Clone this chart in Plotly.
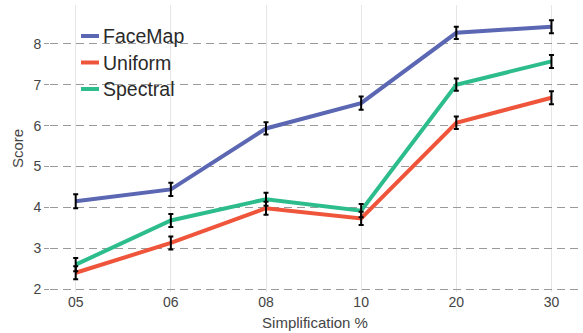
import plotly.graph_objects as go

categories = ["05", "06", "08", "10", "20", "30"]
facemap = [4.15, 4.44, 5.93, 6.55, 8.27, 8.42]
uniform = [2.40, 3.13, 3.98, 3.73, 6.07, 6.68]
spectral = [2.60, 3.68, 4.20, 3.92, 7.00, 7.57]
facemap_err = [0.17, 0.16, 0.15, 0.16, 0.15, 0.16]
uniform_err = [0.16, 0.16, 0.16, 0.16, 0.15, 0.16]
spectral_err = [0.16, 0.16, 0.16, 0.16, 0.15, 0.16]

series = [
    ("FaceMap", facemap, facemap_err, "#5b67b3"),
    ("Uniform", uniform, uniform_err, "#ef553b"),
    ("Spectral", spectral, spectral_err, "#2dbd8c"),
]

W, H = 583, 333
ML, MR, MT, MB = 50, 3, 5, 41

fig = go.Figure()
for name, vals, err, color in series:
    fig.add_trace(go.Scatter(
        x=categories, y=vals, name=name, mode="lines",
        line=dict(color=color, width=4), showlegend=False,
    ))
# error bars on top of all lines
for name, vals, err, color in series:
    fig.add_trace(go.Scatter(
        x=categories, y=vals, mode="markers", showlegend=False,
        marker=dict(size=1, color="rgba(0,0,0,0)"),
        error_y=dict(type="data", array=err, color="black", thickness=2, width=2.5),
        hoverinfo="skip",
    ))

# legend drawn as short line swatches with labels, in pixel-based paper coords
def px_x(px):
    return (px - ML) / (W - ML - MR)

def px_y(py):
    return 1 - (py - MT) / (H - MT - MB)

shapes, annotations = [], []
for i, (name, vals, err, color) in enumerate(series):
    yy = 36 + i * 26.5
    shapes.append(dict(type="line", xref="paper", yref="paper",
                       x0=px_x(81), x1=px_x(99), y0=px_y(yy), y1=px_y(yy),
                       line=dict(color=color, width=4)))
    annotations.append(dict(xref="paper", yref="paper", x=px_x(101), y=px_y(yy),
                            xanchor="left", yanchor="middle", text=name, showarrow=False,
                            font=dict(size=19.5, color="#2a2a2a")))

fig.update_layout(
    width=W, height=H,
    margin=dict(l=ML, r=MR, t=MT, b=MB),
    plot_bgcolor="white", paper_bgcolor="white",
    font=dict(family="Liberation Sans, Arial, sans-serif", color="#444"),
    shapes=shapes, annotations=annotations,
    xaxis=dict(
        type="category", range=[-0.27, 5.3],
        showgrid=True, gridcolor="#e6e6e6", gridwidth=1,
        zeroline=False, showline=False, ticks="",
        tickfont=dict(size=14, color="#444"),
        title=dict(text="Simplification %", font=dict(size=15, color="#444"), standoff=8),
    ),
    yaxis=dict(
        range=[1.93, 8.95], tickvals=[2, 3, 4, 5, 6, 7, 8],
        showgrid=True, gridcolor="#9a9a9a", gridwidth=1, griddash="8px,5px",
        zeroline=False, showline=False, ticks="outside", ticklen=5, tickcolor="#9a9a9a",
        tickfont=dict(size=14, color="#444"),
        title=dict(text="Score", font=dict(size=15, color="#444"), standoff=6),
    ),
)

fig.write_html("out.html")
